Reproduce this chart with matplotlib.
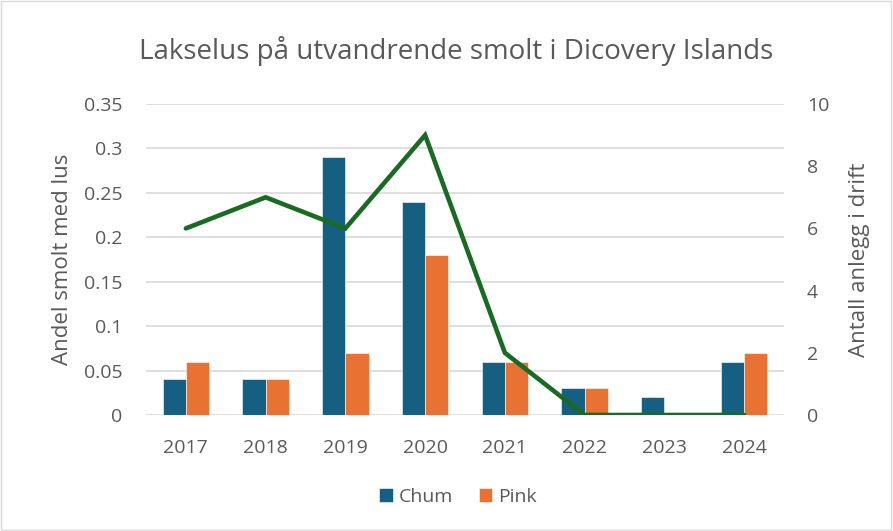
import matplotlib
matplotlib.use("Agg")
import matplotlib.pyplot as plt
import numpy as np
from matplotlib.patches import Rectangle

years = ["2017", "2018", "2019", "2020", "2021", "2022", "2023", "2024"]
chum = [0.04, 0.04, 0.29, 0.24, 0.06, 0.03, 0.02, 0.06]
pink = [0.06, 0.04, 0.07, 0.18, 0.06, 0.03, 0.0, 0.07]
anlegg = [6, 7, 6, 9, 2, 0, 0, 0]

plt.rcParams['font.family'] = ['Open Sans', 'DejaVu Sans']
txt = '#595959'

fig = plt.figure(figsize=(8.93, 5.31), dpi=100)
fig.patches.append(Rectangle((0.001, 0.001), 0.997, 0.997, transform=fig.transFigure,
                             fill=False, edgecolor='#d9d9d9', linewidth=1))
W, H = 893, 531
left, right, top, bottom = 146, 784, 104, 415
ax = fig.add_axes([left / W, 1 - bottom / H, (right - left) / W, (bottom - top) / H])
x = np.arange(len(years))
bw = 0.29
ax.bar(x - bw / 2, chum, bw, color='#156082', label='Chum', zorder=2, edgecolor='white', linewidth=0.4)
ax.bar(x + bw / 2, pink, bw, color='#E97132', label='Pink', zorder=2, edgecolor='white', linewidth=0.4)
ax.set_xlim(-0.5, len(years) - 0.5)
ax.set_ylim(0, 0.35)
ax.set_yticks([0, 0.05, 0.1, 0.15, 0.2, 0.25, 0.3, 0.35])
ax.set_yticklabels(['0', '0.05', '0.1', '0.15', '0.2', '0.25', '0.3', '0.35'])
ax.set_xticks(x)
ax.set_xticklabels(years)
ax.grid(axis='y', color='#d9d9d9', linewidth=1.2, zorder=0)
ax.set_axisbelow(True)
for s in ax.spines.values():
    s.set_visible(False)
ax.tick_params(length=0, colors=txt, labelsize=14)
ax.tick_params(axis='y', pad=17)
ax.tick_params(axis='x', pad=17)
ax.set_ylabel('Andel smolt med lus', color=txt, fontsize=16, labelpad=8)

ax2 = ax.twinx()
ax2.plot(x, anlegg, color='#196B24', linewidth=3.3, solid_capstyle='round', solid_joinstyle='miter', zorder=3)
ax2.set_ylim(0, 10)
ax2.set_yticks([0, 2, 4, 6, 8, 10])
for s in ax2.spines.values():
    s.set_visible(False)
ax2.tick_params(length=0, colors=txt, labelsize=14, pad=16.5)
ax2.set_ylabel('Antall anlegg i drift', color=txt, fontsize=16, labelpad=14)

fig.text(456 / W, 1 - 51 / H, 'Lakselus på utvandrende smolt i Dicovery Islands',
         ha='center', va='center', fontsize=20, color=txt)
fig.legend(handles=[ax.containers[0], ax.containers[1]], labels=['Chum', 'Pink'],
           loc='center', bbox_to_anchor=(458 / W, 1 - 497 / H), ncol=2, frameon=False,
           fontsize=14, labelcolor=txt, handlelength=0.7, handleheight=0.7,
           handletextpad=0.3, columnspacing=1.3)
fig.savefig('out.png', dpi=100)
